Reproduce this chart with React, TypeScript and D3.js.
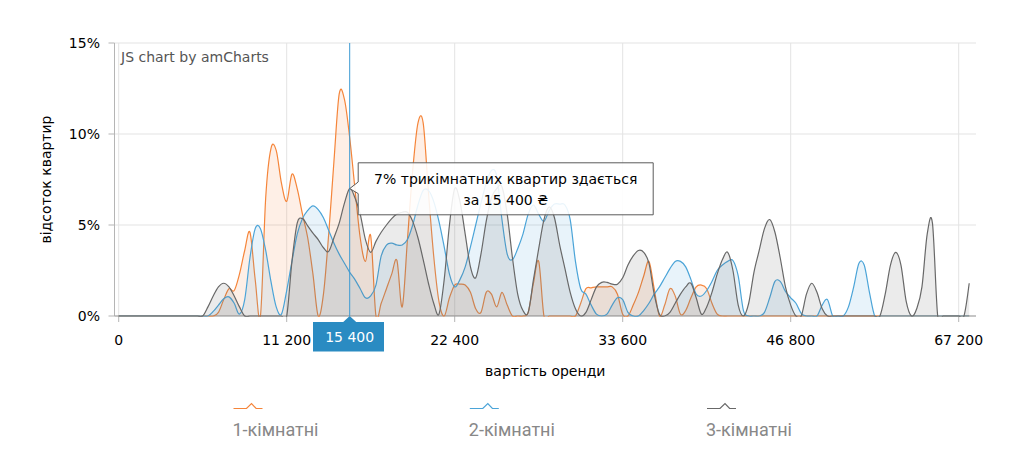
import React from 'react';
import * as d3 from 'd3';

// Rent price categories (UAH)
const categories: number[] = [
  0, 350, 700, 1050, 1400, 1750, 2100, 2450, 2800, 3150,
  3500, 3850, 4200, 4550, 4900, 5250, 5600, 5950, 6300, 6650,
  7000, 7350, 7700, 8050, 8400, 8750, 9100, 9450, 9800, 10150,
  10500, 10850, 11200, 11550, 11900, 12250, 12600, 12950, 13300, 13650,
  14000, 14350, 14700, 15050, 15400, 15750, 16100, 16450, 16800, 17150,
  17500, 17850, 18200, 18550, 18900, 19250, 19600, 19950, 20300, 20650,
  21000, 21350, 21700, 22050, 22400, 22750, 23100, 23450, 23800, 24150,
  24500, 24850, 25200, 25550, 25900, 26250, 26600, 26950, 27300, 27650,
  28000, 28350, 28700, 29050, 29400, 29750, 30100, 30450, 30800, 31150,
  31500, 31850, 32200, 32550, 32900, 33250, 33600, 34000, 34400, 34800,
  35200, 35600, 36000, 36400, 36800, 37200, 37600, 38000, 38400, 38800,
  39200, 39600, 40000, 40400, 40800, 41200, 41600, 42000, 42400, 42800,
  43200, 43650, 44100, 44550, 45000, 45450, 45900, 46350, 46800, 47400,
  48000, 48600, 49200, 49800, 50400, 51000, 51600, 52250, 52900, 53550,
  54200, 54850, 55500, 56150, 56800, 57450, 58100, 58750, 59400, 60050,
  60700, 61350, 62000, 62650, 63300, 63950, 64600, 65250, 65900, 66550,
  67200, 67900, 68600,
];

// share of listings, %
const oneRoom: number[] = [
  0, 0, 0, 0, 0, 0, 0, 0, 0, 0,
  0, 0, 0, 0, 0, 0, 0, 0, 0, 0.2,
  0.9, 1.5, 1.4, 2.3, 3.6, 4.6, 2.0, 0, 6.5, 9.2,
  9.1, 7.3, 6.3, 7.8, 7.0, 5.6, 4.3, 2.3, 0, 1.2,
  4.5, 8.5, 12.2, 11.9, 9.8, 7.0, 4.3, 3.0, 4.4, 0,
  0.7, 1.5, 2.3, 3.05, 0.5, 4.2, 8.0, 10.6, 10.6, 6.8,
  3.3, 0.8, 0, 1.0, 1.7, 1.75, 1.7, 1.3, 0.4, 0.2,
  1.3, 1.2, 0.5, 1.3, 0.6, 0, 0, 0, 0.2, 1.8,
  3.0, 0, 0, 0, 0, 0, 0, 0, 0.7, 1.5,
  1.55, 1.6, 1.6, 1.6, 1.6, 1.2, 0.1, 0, 0.6, 1.3,
  2.2, 3.0, 1.5, 0, 0.6, 1.5, 1.1, 0.1, 0.3, 1.0,
  1.6, 1.7, 1.5, 0.7, 0.1, 0, 0, 0, 0, 0,
  0, 0, 0, 0, 0, 0, 0, 0, 0, 0,
  0, 0, 0, 0, 0, 0, 0, 0, 0, 0,
  0, 0, 0, 0, 0, 0, 0, 0, 0, 0,
  0, 0, 0, 0, 0, 0, 0, 0, 0, 0,
  0, 0, 0,
];

const twoRoom: number[] = [
  0, 0, 0, 0, 0, 0, 0, 0, 0, 0,
  0, 0, 0, 0, 0, 0, 0, 0, 0.25, 0.6,
  0.95, 1.05, 0.7, 0.1, 0.9, 3.2, 4.8, 4.8, 3.6, 1.9,
  0.5, 0.1, 1.4, 3.0, 4.5, 5.35, 5.8, 6.05, 5.85, 5.4,
  4.7, 4.0, 3.4, 2.9, 2.4, 2.0, 1.5, 1.0, 1.1, 1.7,
  3.3, 3.9, 4.0, 3.9, 3.9, 4.2, 5.0, 6.1, 6.9, 6.9,
  6.3, 5.2, 3.8, 2.3, 1.6, 2.0, 2.7, 3.8, 5.0, 6.2,
  7.3, 8.0, 7.7, 5.3, 3.4, 3.1, 3.7, 4.5, 5.6, 6.1,
  5.6, 5.2, 5.8, 6.15, 6.15, 6.1, 5.3, 3.0, 1.5, 1.2,
  0.6, 0.1, 0, 0.1, 0.6, 1.0, 0.9, 0.2, 0, 0,
  0.3, 0.7, 1.2, 1.6, 2.1, 2.6, 3.0, 3.0, 2.7, 2.0,
  1.2, 1.1, 1.4, 1.9, 2.5, 2.8, 3.0, 3.05, 2.2, 0.3,
  0, 0, 0, 0.2, 1.0, 1.9, 1.9, 1.35, 1.0, 0.7,
  0.15, 0, 0, 0, 0.6, 0.9, 0, 0, 0, 0.5,
  1.6, 2.9, 2.8, 1.3, 0, 0, 0, 0, 0, 0,
  0, 0, 0, 0, 0, 0, 0, 0, 0, 0,
  0, 0, 0,
];

const threeRoom: number[] = [
  0, 0, 0, 0, 0, 0, 0, 0, 0, 0,
  0, 0, 0, 0, 0, 0, 0, 0.5, 1.1, 1.6,
  1.8, 1.6, 1.1, 0.5, 0, 0, 0, 0, 0, 0,
  0, 0, 0, 3.0, 5.1, 5.35, 4.95, 4.55, 4.2, 3.75,
  3.55, 4.3, 5.1, 6.2, 7.0, 6.5, 5.6, 4.2, 3.5, 4.1,
  4.6, 5.0, 5.35, 5.6, 5.7, 5.7, 5.2, 4.3, 3.1, 1.8,
  0.7, 0.1, 2.0, 5.0, 7.0, 6.3, 4.5, 2.7, 2.1, 3.4,
  5.2, 6.5, 7.0, 7.1, 5.6, 3.2, 1.2, 0.3, 0.2, 2.0,
  3.7, 5.3, 6.0, 5.4, 3.9, 2.6, 1.3, 0.4, 0, 0.2,
  0.9, 1.6, 1.85, 1.85, 1.75, 1.75, 2.1, 2.8, 3.3, 3.6,
  3.5, 2.9, 1.2, 0.1, 0, 0.2, 0.7, 1.2, 1.6, 1.8,
  1.0, 0.1, 0.5, 1.3, 2.3, 3.1, 3.5, 2.5, 0.6, 0,
  0.7, 2.4, 3.6, 4.8, 5.3, 4.6, 3.2, 1.6, 0.6, 0,
  0, 1.2, 1.8, 1.3, 0.4, 0, 0, 0, 0, 0,
  0, 0, 0, 0, 0, 0, 1.2, 2.8, 3.5, 2.8,
  0.8, 0, 0.4, 1.6, 4.5, 5.1, 0, 0, 0, 0,
  0, 0, 1.8,
];

const seriesNames = ['1-кімнатні', '2-кімнатні', '3-кімнатні'];
const seriesData = [oneRoom, twoRoom, threeRoom];
const seriesColors = ['#f5853a', '#4ba4d8', '#686868'];

const yTicks = [0, 5, 10, 15];
const xTickLabels = [0, 11200, 22400, 33600, 46800, 67200];

const cursorCategory = 15400;
const cursorSeries = 2;
const tooltipLine1 = '% трикімнатних квартир здається';
const tooltipLine2Prefix = 'за ';
const currency = '₴';

const yTitle = 'відсоток квартир';
const xTitle = 'вартість оренди';
const credit = 'JS chart by amCharts';

const W = 1013;
const H = 467;
const plotLeft = 114.5;
const plotRight = 976;
const plotTop = 43;
const plotBottom = 316;

const FONT = "'DejaVu Sans', Verdana, sans-serif";

const loc = d3.formatLocale({ decimal: ',', thousands: ' ', grouping: [3], currency: ['', ' ₴'] });
const fmt = loc.format(',d');

export default function App() {
  const x = d3
    .scalePoint<number>()
    .domain(categories)
    .range([118.7, 118.7 + 5.25 * (categories.length - 1)]);
  const y = d3.scaleLinear().domain([0, 15]).range([plotBottom, plotTop]);

  const curve = d3.curveCardinal.tension(0);
  const area = d3
    .area<number>()
    .x((_, i) => x(categories[i]) as number)
    .y0(y(0))
    .y1((d) => y(d))
    .curve(curve);
  const line = d3
    .line<number>()
    .x((_, i) => x(categories[i]) as number)
    .y((d) => y(d))
    .curve(curve);

  const cx = x(cursorCategory) as number;
  const cIdx = categories.indexOf(cursorCategory);
  const cVal = seriesData[cursorSeries][cIdx];
  const cy = y(cVal);

  const tipLeft = cx + 8.5;
  const tipRight = tipLeft + 295;
  const tipTop = cy - 25.8;
  const tipBottom = cy + 26.2;
  const tipMid = (tipLeft + tipRight) / 2;

  const legendX = [233.5, 469.8, 707];

  return (
    <svg
      width={W}
      height={H}
      style={{ position: 'absolute', left: 0, top: 0, background: '#fff' }}
      fontFamily={FONT}
    >
      <defs>
        <clipPath id="plotclip">
          <rect x={plotLeft} y={plotTop} width={plotRight - plotLeft} height={plotBottom - plotTop + 0.8} />
        </clipPath>
      </defs>

      {/* horizontal grid */}
      {yTicks.map((t) => (
        <g key={'gy' + t}>
          <line x1={plotLeft} x2={plotRight} y1={y(t)} y2={y(t)} stroke="#e3e3e3" strokeWidth={1} />
          <line x1={plotLeft - 6} x2={plotLeft} y1={y(t)} y2={y(t)} stroke="#b5b5b5" strokeWidth={1} />
          <text x={100} y={y(t) + 5} textAnchor="end" fontSize={14} fill="#000">
            {t}%
          </text>
        </g>
      ))}

      {/* vertical grid */}
      {xTickLabels.map((c) => {
        const xx = x(c) as number;
        return (
          <g key={'gx' + c}>
            <line x1={xx} x2={xx} y1={plotTop} y2={plotBottom} stroke="#e3e3e3" strokeWidth={1} />
            <line x1={xx} x2={xx} y1={plotBottom} y2={plotBottom + 6} stroke="#b5b5b5" strokeWidth={1} />
            <text x={xx} y={344.5} textAnchor="middle" fontSize={14} fill="#000">
              {fmt(c)}
            </text>
          </g>
        );
      })}

      {/* axes */}
      <line x1={plotLeft} x2={plotLeft} y1={plotTop} y2={plotBottom} stroke="#b5b5b5" strokeWidth={1} />
      <line x1={plotLeft} x2={plotRight} y1={plotBottom} y2={plotBottom} stroke="#999" strokeWidth={1} />

      {/* series */}
      <g clipPath="url(#plotclip)">
        {seriesData.map((d, k) => (
          <g key={'s' + k}>
            <path d={area(d) || ''} fill={seriesColors[k]} fillOpacity={0.13} stroke="none" />
            <path d={line(d) || ''} fill="none" stroke={seriesColors[k]} strokeWidth={1.2} />
          </g>
        ))}
      </g>

      {/* credit */}
      <text x={121} y={62} fontSize={14} fill="#555">
        {credit}
      </text>

      {/* cursor */}
      <line x1={cx} x2={cx} y1={plotTop} y2={plotBottom} stroke="#3d9ad3" strokeWidth={1} />

      {/* tooltip */}
      <path
        d={`M${tipLeft},${tipTop} H${tipRight} V${tipBottom} H${tipLeft} V${cy + 5} L${cx},${cy} L${tipLeft},${cy - 6.6} Z`}
        fill="#fff"
        fillOpacity={0.88}
        stroke="#5a5a5a"
        strokeWidth={1}
      />
      <text x={tipMid} y={cy - 5} textAnchor="middle" fontSize={14} fill="#000">
        {cVal + tooltipLine1}
      </text>
      <text x={tipMid} y={cy + 16} textAnchor="middle" fontSize={14} fill="#000">
        {tooltipLine2Prefix + fmt(cursorCategory) + ' ' + currency}
      </text>

      {/* category balloon */}
      <path
        d={`M${cx - 36.7},${plotBottom + 6} H${cx - 6.5} L${cx},${plotBottom} L${cx + 6.5},${plotBottom + 6} H${cx + 34.3} V${plotBottom + 35.5} H${cx - 36.7} Z`}
        fill="#2a8bc2"
      />
      <text x={cx} y={341.5} textAnchor="middle" fontSize={14} fill="#fff">
        {fmt(cursorCategory)}
      </text>

      {/* axis titles */}
      <text x={(plotLeft + plotRight) / 2} y={375.5} textAnchor="middle" fontSize={14} fill="#000">
        {xTitle}
      </text>
      <text
        transform={`translate(51,${(plotTop + plotBottom) / 2}) rotate(-90)`}
        textAnchor="middle"
        fontSize={14}
        fill="#000"
      >
        {yTitle}
      </text>

      {/* legend */}
      {seriesNames.map((n, k) => {
        const lx = legendX[k];
        const ly = 408.5;
        return (
          <g key={'lg' + k}>
            <path
              d={`M${lx},${ly} H${lx + 13} L${lx + 18},${ly - 5} L${lx + 22.6},${ly} H${lx + 29}`}
              fill="none"
              stroke={seriesColors[k]}
              strokeWidth={1.2}
            />
            <text x={lx - 1} y={436} fontSize={18} fontFamily="Roboto, sans-serif" fill="#888">
              {n}
            </text>
          </g>
        );
      })}
    </svg>
  );
}
